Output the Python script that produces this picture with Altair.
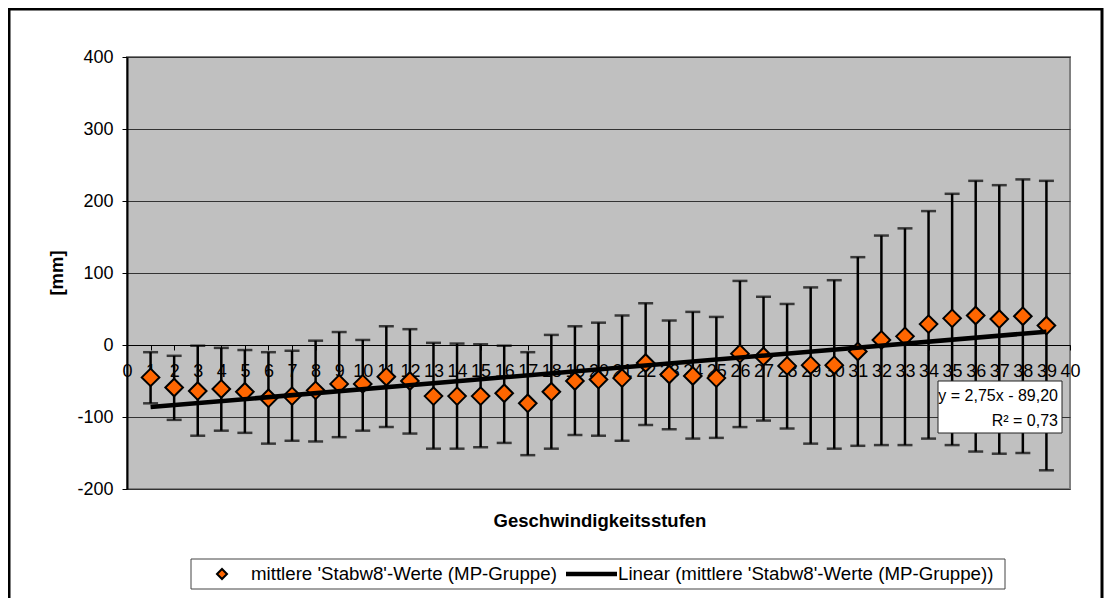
import altair as alt
import pandas as pd

# ---------------- data ----------------
stufen = list(range(1, 40))
mittel = [-45, -59, -64, -61, -65, -74, -71, -63, -54, -54,
          -44, -50, -71, -71, -71, -67, -81, -65, -50, -48,
          -46, -25, -41, -43, -46, -12, -16, -29, -28, -28,
          -9, 7, 12, 29, 37, 41, 36, 40, 27]
oben = [-10, -15, -1, -4, -7, -10, -8, 6, 18, 7,
        26, 22, 3, 2, 1, -1, -10, 14, 26, 31,
        41, 58, 34, 46, 39, 89, 67, 57, 80, 90,
        122, 152, 162, 186, 210, 228, 222, 230, 228]
unten = [-81, -104, -126, -119, -122, -137, -133, -134, -128, -119,
         -114, -123, -144, -144, -142, -136, -153, -144, -125, -126,
         -133, -111, -117, -130, -129, -114, -105, -116, -137, -144,
         -140, -139, -139, -130, -139, -148, -151, -150, -174]
x_ticks = list(range(0, 41))
y_ticks = [-200, -100, 0, 100, 200, 300, 400]

legend_labels = ["mittlere 'Stabw8'-Werte (MP-Gruppe)",
                 "Linear (mittlere 'Stabw8'-Werte (MP-Gruppe))"]
trend_label = ["y = 2,75x - 89,20", "R\u00b2 = 0,73"]
x_title = "Geschwindigkeitsstufen"
y_title = "[mm]"

df = pd.DataFrame({"x": stufen, "m": mittel, "hi": oben, "lo": unten})

W, H = 943, 432
FONT = "Liberation Sans"
ORANGE = "#FF6600"

x_axis = alt.Axis(values=x_ticks, title=None, offset=-144, labelOverlap=False,
                  labelFlush=False, grid=False, tickSize=5, labelPadding=12,
                  labelFontSize=18, labelColor="black", labelFont=FONT,
                  domainColor="black", tickColor="black", domainWidth=1,
                  labelExpr="'' + datum.value")
y_axis = alt.Axis(values=y_ticks, title=None, grid=True, gridColor="#333333",
                  gridWidth=1, tickSize=5, labelPadding=9, labelFontSize=18,
                  labelColor="black", labelFont=FONT, domainColor="black",
                  domainWidth=2, tickColor="black",
                  labelExpr="'' + datum.value")

def X():
    return alt.X("x:Q", scale=alt.Scale(domain=[0, 40], nice=False, zero=False), axis=x_axis)

def Y(field):
    return alt.Y(field + ":Q", scale=alt.Scale(domain=[-200, 400], nice=False), axis=y_axis)

base = alt.Chart(df)

bars = base.mark_rule(color="black", strokeWidth=2.5).encode(x=X(), y=Y("lo"), y2="hi:Q")
cap_hi = base.mark_tick(orient="horizontal", color="black", size=15, thickness=2.5).encode(x=X(), y=Y("hi"))
cap_lo = base.mark_tick(orient="horizontal", color="black", size=15, thickness=2.5).encode(x=X(), y=Y("lo"))
points = base.mark_point(shape="diamond", filled=True, fill=ORANGE, stroke="black",
                         strokeWidth=2, size=310, opacity=1).encode(x=X(), y=Y("m"))
trend = base.transform_regression("x", "m", extent=[1, 39]).mark_line(
    color="black", strokeWidth=4.5).encode(x=X(), y=Y("m"))

one = alt.Data(values=[{"a": 1}])

frame = alt.Chart(one).mark_rect(fill="transparent", stroke="black", strokeWidth=3).encode(
    x=alt.value(-118), x2=alt.value(975), y=alt.value(-48), y2=alt.value(620))

tbox = alt.Chart(one).mark_rect(fill="white", stroke="#222222", strokeWidth=1).encode(
    x=alt.value(811), x2=alt.value(935), y=alt.value(324), y2=alt.value(376))
t1 = alt.Chart(one).mark_text(align="right", baseline="middle", fontSize=16, font=FONT, color="black").encode(
    x=alt.value(931), y=alt.value(339), text=alt.value(trend_label[0]))
t2 = alt.Chart(one).mark_text(align="right", baseline="middle", fontSize=16, font=FONT, color="black").encode(
    x=alt.value(931), y=alt.value(364), text=alt.value(trend_label[1]))

lbox = alt.Chart(one).mark_rect(fill="white", stroke="#444444", strokeWidth=1).encode(
    x=alt.value(64), x2=alt.value(878), y=alt.value(502), y2=alt.value(532))
lpt = alt.Chart(one).mark_point(shape="diamond", filled=True, fill=ORANGE, stroke="black",
                                strokeWidth=2, size=100, opacity=1).encode(
    x=alt.value(95), y=alt.value(517))
lline = alt.Chart(one).mark_rule(color="black", strokeWidth=4.5).encode(
    x=alt.value(439), x2=alt.value(490), y=alt.value(517))
lt1 = alt.Chart(one).mark_text(align="left", baseline="middle", fontSize=18.7, font=FONT, color="black").encode(
    x=alt.value(124), y=alt.value(517), text=alt.value(legend_labels[0]))
lt2 = alt.Chart(one).mark_text(align="left", baseline="middle", fontSize=18.7, font=FONT, color="black").encode(
    x=alt.value(491), y=alt.value(517), text=alt.value(legend_labels[1]))

xt = alt.Chart(one).mark_text(align="center", baseline="middle", fontSize=18.5, fontWeight="bold",
                              font=FONT, color="black").encode(
    x=alt.value(473), y=alt.value(464), text=alt.value(x_title))
yt = alt.Chart(one).mark_text(align="center", baseline="middle", fontSize=18.5, fontWeight="bold",
                              font=FONT, color="black", angle=270).encode(
    x=alt.value(-70), y=alt.value(216), text=alt.value(y_title))

chart = alt.layer(
    frame, bars, cap_hi, cap_lo, points, trend, tbox, t1, t2,
    lbox, lpt, lline, lt1, lt2, xt, yt
).properties(
    width=W, height=H,
    autosize=alt.AutoSizeParams(type="none"),
    padding={"left": 119, "top": 49, "right": 36, "bottom": 109},
    background="white",
).configure_view(
    fill="#C0C0C0", stroke="#808080", strokeWidth=2
)

chart.save("out.html", embed_options={"renderer": "svg", "actions": False})
